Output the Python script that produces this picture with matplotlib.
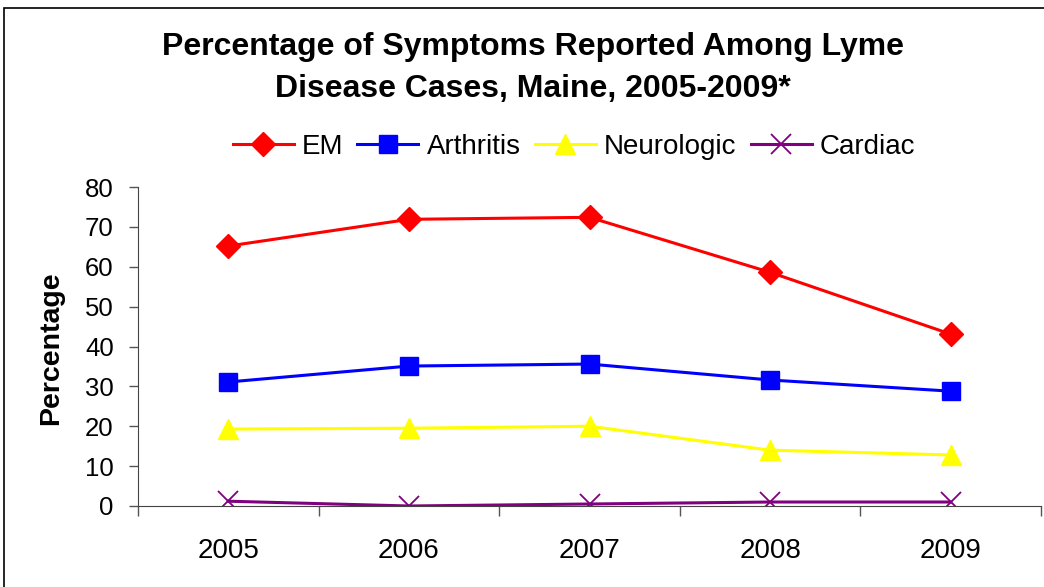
import matplotlib
matplotlib.use("Agg")
import matplotlib.pyplot as plt
from matplotlib.patches import Rectangle

plt.rcParams["font.family"] = ["Liberation Sans", "DejaVu Sans"]

years = ["2005", "2006", "2007", "2008", "2009"]
em = [65.2, 71.9, 72.4, 58.6, 43.1]
arthritis = [31.1, 35.1, 35.6, 31.6, 28.8]
neurologic = [19.3, 19.5, 20.0, 14.0, 12.8]
cardiac = [1.2, 0.0, 0.5, 1.0, 1.0]


def main():
    fig = plt.figure(figsize=(10.44, 5.87), dpi=100)
    ax = fig.add_axes([0.1322, 0.138, 0.865, 0.5434])

    x = list(range(len(years)))
    ax.plot(x, em, color="red", lw=2.2, marker="D", ms=12, label="EM")
    ax.plot(x, arthritis, color="blue", lw=2.2, marker="s", ms=13.5, label="Arthritis")
    ax.plot(x, neurologic, color="yellow", lw=2.2, marker="^", ms=15, label="Neurologic")
    ax.plot(x, cardiac, color="purple", lw=2.2, marker="x", ms=15, mew=1.3, label="Cardiac")

    ax.set_xlim(-0.5, 4.5)
    ax.set_ylim(0, 80)
    ax.set_yticks(range(0, 81, 10))

    # tick marks sit between the categories, labels at the centres
    ax.set_xticks([i - 0.5 for i in range(len(years) + 1)])
    ax.set_xticklabels([])
    ax.set_xticks(x, minor=True)
    ax.set_xticklabels(years, minor=True)
    ax.tick_params(axis="x", which="major", direction="out", length=7, width=1, color="#555555")
    ax.tick_params(axis="x", which="minor", length=0, pad=23, labelsize=20)
    ax.tick_params(axis="y", direction="out", length=6.5, width=1, color="#555555", labelsize=18.5, pad=11)

    for side in ["top", "right"]:
        ax.spines[side].set_visible(False)
    ax.spines["left"].set_color("#444444")
    ax.spines["bottom"].set_color("#444444")

    fig.text(51 / 1044, 1 - 348 / 587, "Percentage", rotation=90, ha="center", va="center",
             fontsize=20.5, fontweight="bold")

    fig.text(533 / 1044, 1 - 68 / 587, "Percentage of Symptoms Reported Among Lyme\nDisease Cases, Maine, 2005-2009*",
             ha="center", va="center", fontsize=23, fontweight="bold", linespacing=1.5)

    fig.legend(loc="center", bbox_to_anchor=(574 / 1044, 1 - 147 / 587), ncol=4, frameon=False,
               fontsize=20, handlelength=2.2, handletextpad=0.3, columnspacing=0.5,
               borderaxespad=0)

    fig.patches.append(Rectangle((4 / 1044, -0.1), 1.2, 1.1 - 8 / 587, transform=fig.transFigure,
                                 fill=False, edgecolor="black", lw=1.2))

    fig.savefig("out.png", dpi=100)
    plt.close(fig)


if __name__ == "__main__":
    main()
